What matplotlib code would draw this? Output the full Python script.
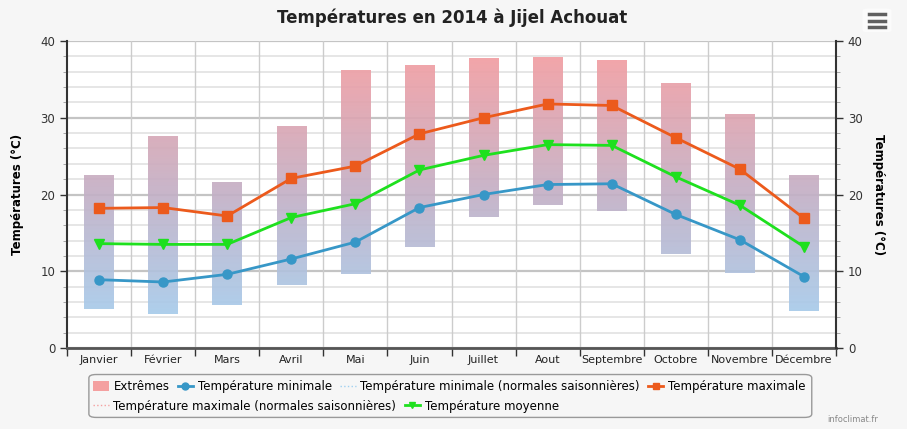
import matplotlib
matplotlib.use("Agg")
import matplotlib.pyplot as plt
import numpy as np
from matplotlib.lines import Line2D
from matplotlib.patches import Rectangle, FancyBboxPatch
from matplotlib.colors import LinearSegmentedColormap

months = ["Janvier", "Février", "Mars", "Avril", "Mai", "Juin", "Juillet",
          "Aout", "Septembre", "Octobre", "Novembre", "Décembre"]
t_max = [18.2, 18.3, 17.2, 22.1, 23.7, 27.9, 30.0, 31.8, 31.6, 27.4, 23.3, 16.9]
t_min = [8.9, 8.6, 9.6, 11.6, 13.8, 18.3, 20.0, 21.3, 21.4, 17.4, 14.1, 9.3]
t_moy = [13.6, 13.5, 13.5, 17.0, 18.8, 23.2, 25.1, 26.5, 26.4, 22.3, 18.6, 13.2]
ext_high = [22.5, 27.6, 21.6, 28.9, 36.2, 36.9, 37.8, 37.9, 37.5, 34.5, 30.5, 22.6]
ext_low = [5.1, 4.4, 5.6, 8.2, 9.6, 13.2, 17.1, 18.6, 17.9, 12.3, 9.8, 4.8]

plt.rcParams["font.family"] = "DejaVu Sans"

fig = plt.figure(figsize=(9.07, 4.29), dpi=100)
fig.patch.set_facecolor("#f6f6f6")
ax = fig.add_axes([0.0739, 0.1888, 0.8478, 0.7156])
ax.set_facecolor("white")

x = np.arange(len(months))

# grid
for v in np.arange(0, 41, 2):
    major = v % 10 == 0
    ax.axhline(v, color="#c4c4c4" if major else "#e2e2e2",
               lw=1.6 if major else 1.2, zorder=0)
for b in np.arange(0.5, len(months) - 0.5, 1):
    ax.axvline(b, color="#cccccc", lw=1, zorder=0)

# extremes bars with vertical gradient
cmap = LinearSegmentedColormap.from_list("ext", ["#9fd3f5", "#c3b0c6", "#f79b9e"])
grad = np.linspace(0, 1, 256).reshape(-1, 1)
w = 0.46
for i in range(len(months)):
    rect = Rectangle((x[i] - w / 2, ext_low[i]), w, ext_high[i] - ext_low[i],
                     facecolor="none", edgecolor="none")
    ax.add_patch(rect)
    im = ax.imshow(grad, cmap=cmap, origin="lower", aspect="auto",
                   extent=[x[i] - w / 2, x[i] + w / 2, 0, 40], alpha=0.92, zorder=1)
    im.set_clip_path(rect)
ax.set_xlim(-0.5, len(months) - 0.5)
ax.set_ylim(0, 40)

c_min = "#3797c7"
c_max = "#ec5a1c"
c_moy = "#1ee01e"
ax.plot(x, t_min, color=c_min, lw=2, marker="o", ms=6.5, zorder=3)
ax.plot(x, t_max, color=c_max, lw=2, marker="s", ms=6.5, zorder=3)
ax.plot(x, t_moy, color=c_moy, lw=2, marker="v", ms=6.5, zorder=3)

# axes styling
for s in ["top", "right"]:
    ax.spines[s].set_visible(False)
ax.spines["left"].set_color("#333333")
ax.spines["left"].set_linewidth(1.5)
ax.spines["bottom"].set_color("#555555")
ax.spines["bottom"].set_linewidth(2)
ax.set_yticks([0, 10, 20, 30, 40])
ax.set_yticks(np.arange(0, 41, 2), minor=True)
ax.tick_params(axis="y", which="major", length=5, width=1, labelsize=8.5, colors="#333333")
ax.tick_params(axis="y", which="minor", length=3, width=0.6, color="#999999")
ax.set_xticks(np.arange(-0.5, len(months), 1))
ax.set_xticklabels([])
ax.set_xticks(x, minor=True)
ax.set_xticklabels(months, minor=True, fontsize=8, color="#222222")
ax.tick_params(axis="x", which="major", length=6, width=1, color="#333333")
ax.tick_params(axis="x", which="minor", length=0, pad=5)
ax.set_ylabel("Températures (°C)", fontsize=8.5, fontweight="bold", labelpad=12)

ax2 = ax.twinx()
ax2.set_ylim(0, 40)
ax2.set_yticks([0, 10, 20, 30, 40])
ax2.set_yticks(np.arange(0, 41, 2), minor=True)
for s in ["top", "left", "bottom"]:
    ax2.spines[s].set_visible(False)
ax2.spines["right"].set_color("#333333")
ax2.spines["right"].set_linewidth(1.5)
ax2.tick_params(axis="y", which="major", length=5, width=1, labelsize=8.5, colors="#333333")
ax2.tick_params(axis="y", which="minor", length=3, width=0.6, color="#999999")
ax2.set_ylabel("Températures (°C)", fontsize=8.5, fontweight="bold",
               rotation=270, labelpad=16)

fig.text(0.498, 0.958, "Températures en 2014 à Jijel Achouat", ha="center", va="center",
         fontsize=12, fontweight="bold", color="#222222")

# legend
fig.patches.append(FancyBboxPatch((0.098, 0.027), 0.797, 0.1, transform=fig.transFigure,
                                  boxstyle="round,pad=0,rounding_size=0.008",
                                  facecolor="#f6f6f6", edgecolor="#999999", lw=1))
h_ext = Rectangle((0, 0), 1, 1, facecolor="#f4a0a0", edgecolor="none")
h_min = Line2D([], [], color=c_min, lw=2, marker="o", ms=5)
h_min_n = Line2D([], [], color="#9fd0f0", lw=1, ls=":")
h_max = Line2D([], [], color=c_max, lw=2, marker="s", ms=5)
h_max_n = Line2D([], [], color="#f4a0a0", lw=1, ls=":")
h_moy = Line2D([], [], color=c_moy, lw=2, marker="v", ms=5)
leg_kw = dict(frameon=False, fontsize=8.5, handlelength=1.3, handletextpad=0.4,
              columnspacing=0.7, borderpad=0, borderaxespad=0, handleheight=0.9)
l1 = fig.legend([h_ext, h_min, h_min_n, h_max],
                ["Extrêmes", "Température minimale",
                 "Température minimale (normales saisonnières)", "Température maximale"],
                ncol=4, loc="center left", bbox_to_anchor=(0.103, 0.098), **leg_kw)
l2 = fig.legend([h_max_n, h_moy],
                ["Température maximale (normales saisonnières)", "Température moyenne"],
                ncol=2, loc="center left", bbox_to_anchor=(0.103, 0.053), **leg_kw)

# menu icon
fig.patches.append(FancyBboxPatch((0.951, 0.925), 0.032, 0.055, transform=fig.transFigure,
                                  boxstyle="round,pad=0,rounding_size=0.005",
                                  facecolor="#fbfbfb", edgecolor="none"))
for yy in [0.937, 0.952, 0.967]:
    fig.lines.append(Line2D([0.958, 0.976], [yy, yy], transform=fig.transFigure,
                            color="#606060", lw=2.5))

fig.text(0.968, 0.012, "infoclimat.fr", ha="right", va="bottom", fontsize=6, color="#888888")

fig.savefig("out.png", dpi=100, facecolor=fig.get_facecolor())
